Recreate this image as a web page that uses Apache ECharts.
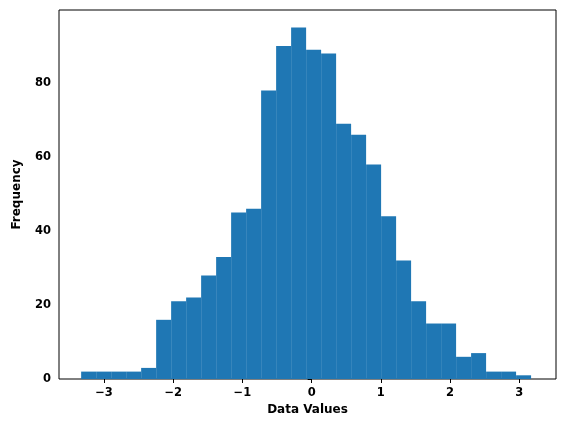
<!DOCTYPE html>
<html><head><meta charset="utf-8">
<script src="https://cdn.jsdelivr.net/npm/echarts@6/dist/echarts.min.js"></script>
<style>html,body{margin:0;padding:0;background:#fff}#c{width:564px;height:432px}</style>
</head><body><div id="c"></div>
<script>
const binStart = -3.33;
const binEnd = 3.17;
const counts = [2,2,2,2,3,16,21,22,28,33,45,46,78,90,95,89,88,69,66,58,44,32,21,15,15,6,7,2,2,1];
const xTicks = [-3,-2,-1,0,1,2,3];
const w = (binEnd - binStart) / counts.length;
const data = counts.map((c, i) => [binStart + i * w, binStart + (i + 1) * w, c]);
const chart = echarts.init(document.getElementById('c'));
const font = {fontFamily: 'DejaVu Sans', fontSize: 11.5, fontWeight: 'bold', color: '#000'};
chart.setOption({
  animation: false,
  grid: {left: 59, right: 8, top: 10, bottom: 53, show: true, borderColor: '#000', borderWidth: 1},
  xAxis: {type: 'value', min: -3.65, max: 3.53, interval: 1,
    axisLine: {show: false}, splitLine: {show: false},
    axisTick: {show: true, length: 4, lineStyle: {color: '#000'}},
    axisLabel: Object.assign({}, font, {
      customValues: xTicks,
      formatter: v => (v < 0 ? '\u2212' + (-v) : '' + v)}),
    axisTick: {show: true, customValues: xTicks, length: 4, lineStyle: {color: '#000'}},
    name: 'Data Values', nameLocation: 'middle', nameGap: 24,
    nameTextStyle: Object.assign({}, font, {fontSize: 12})},
  yAxis: {type: 'value', min: 0, max: 99.75, interval: 20,
    axisLine: {show: false}, splitLine: {show: false},
    axisTick: {show: true, length: 4, lineStyle: {color: '#000'}},
    axisLabel: Object.assign({}, font, {showMaxLabel: false}),
    name: 'Frequency', nameLocation: 'middle', nameGap: 36,
    nameTextStyle: Object.assign({}, font, {fontSize: 12})},
  series: [{type: 'custom', data: data,
    renderItem: (params, api) => {
      const p0 = api.coord([api.value(0), api.value(2)]);
      const p1 = api.coord([api.value(1), 0]);
      return {type: 'rect', shape: {x: p0[0], y: p0[1], width: p1[0] - p0[0], height: p1[1] - p0[1]},
        style: {fill: '#1f77b4'}};
    }}]
});
</script></body></html>
